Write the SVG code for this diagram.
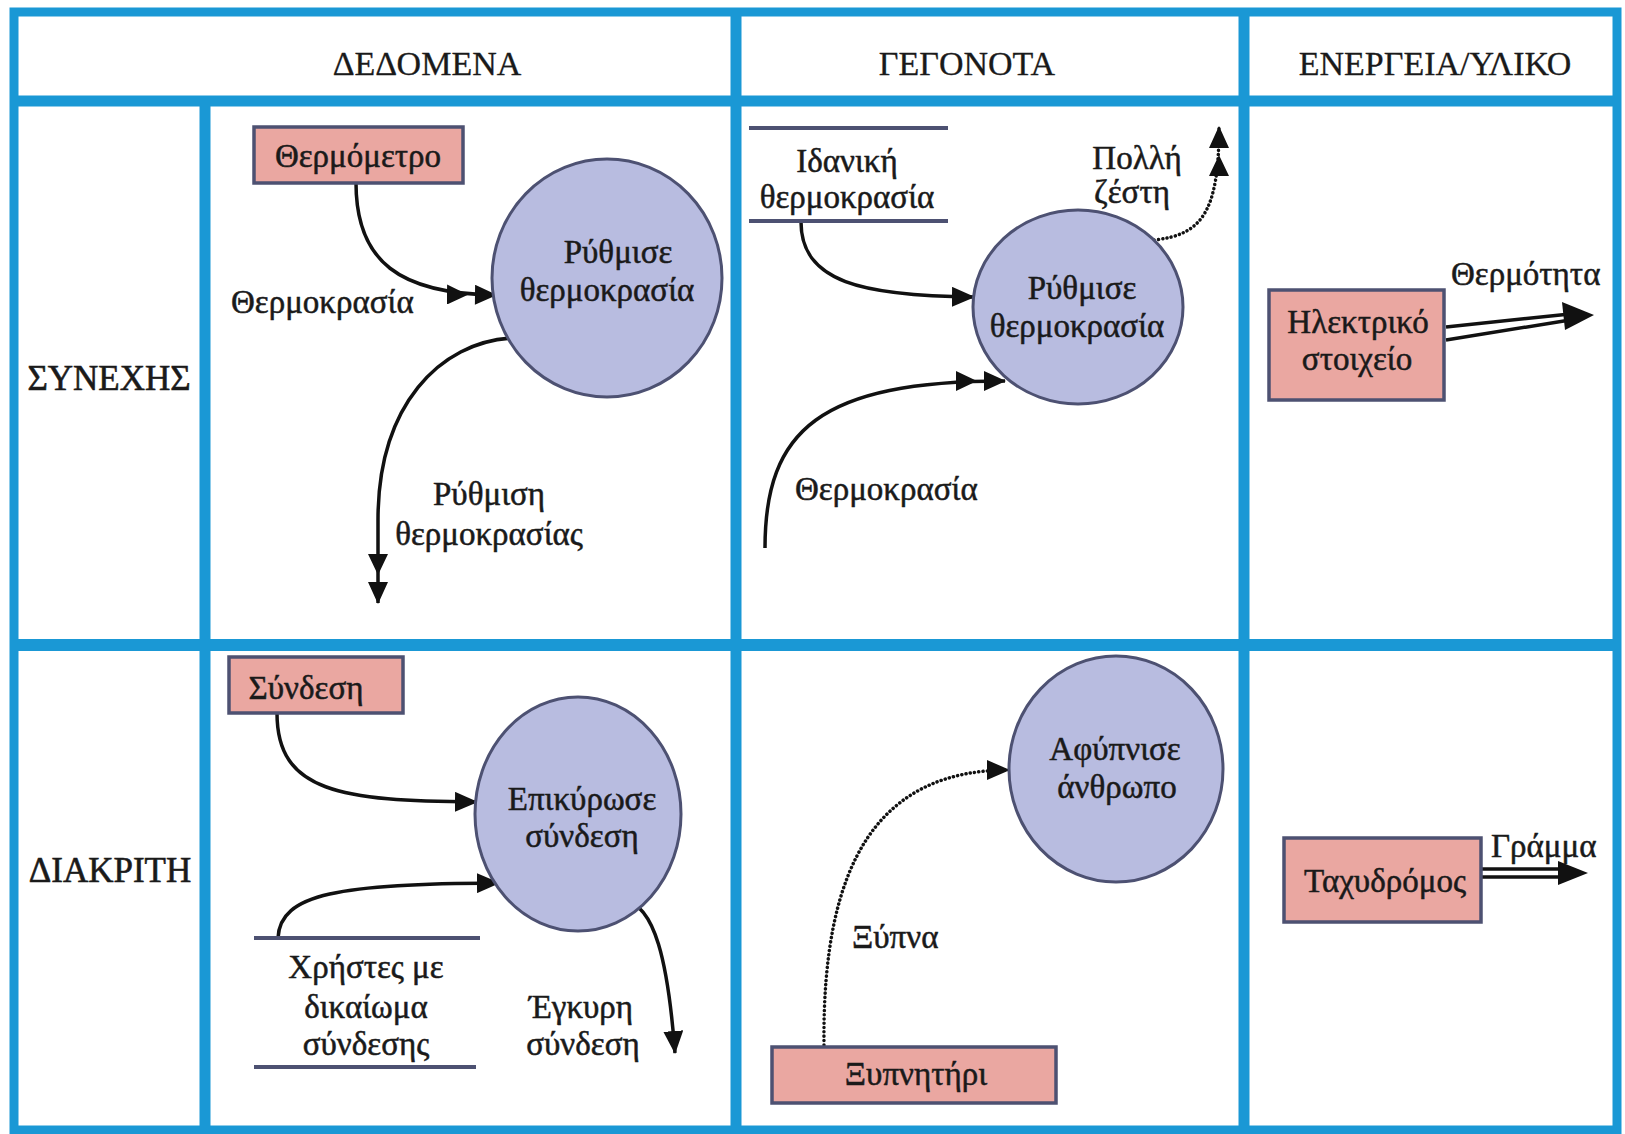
<svg xmlns="http://www.w3.org/2000/svg" width="1625" height="1134" viewBox="0 0 1625 1134">
  <style>
    .grid { fill: none; stroke: #1a98d5; stroke-width: 11; }
    .proc { fill: #b8bce0; stroke: #4d5172; stroke-width: 3; }
    .ext { fill: #eaa7a1; stroke: #4d5172; stroke-width: 3.5; }
    .store { stroke: #4d5172; stroke-width: 4; }
    .flow { fill: none; stroke: #111; stroke-width: 3.5; }
    .dot { fill: none; stroke: #111; stroke-width: 3.5; stroke-dasharray: 0.1 4.2; stroke-linecap: round; }
    .pipe { fill: none; stroke: #111; stroke-width: 3.5; }
    .head { fill: #111; }
    text { font-family: "Liberation Serif", "DejaVu Serif", serif; font-size: 33px; fill: #1a1a1a; stroke: #1a1a1a; stroke-width: 0.5; }
    .c { text-anchor: middle; }
    .hdr { font-size: 34px; stroke-width: 0.3; }
    .row { font-size: 35px; stroke-width: 0.6; }
  </style>
  <defs>
    <marker id="arrow" markerUnits="userSpaceOnUse" markerWidth="23" markerHeight="20" refX="22" refY="10" orient="auto">
      <path d="M0,0 L23,10 L0,20 z" fill="#111"/>
    </marker>
    <marker id="arrow2" markerUnits="userSpaceOnUse" markerWidth="50" markerHeight="20" refX="49" refY="10" orient="auto">
      <path d="M0,0 L21,10 L0,20 z M28,0 L50,10 L28,20 z" fill="#111"/>
    </marker>
  </defs>

  <rect x="0" y="0" width="1625" height="1134" fill="#fff"/>

  <!-- table grid -->
  <g id="grid">
    <rect class="grid" x="14" y="12" width="1603" height="1118" style="stroke-width:9"/>
    <line class="grid" x1="14" y1="101" x2="1617" y2="101"/>
    <line class="grid" x1="14" y1="645" x2="1617" y2="645" style="stroke-width:12"/>
    <line class="grid" x1="205" y1="101" x2="205" y2="1130"/>
    <line class="grid" x1="736" y1="12" x2="736" y2="1130"/>
    <line class="grid" x1="1244" y1="12" x2="1244" y2="1130"/>
  </g>

  <!-- column and row headings -->
  <g id="headings">
    <text class="c hdr" x="427" y="75">ΔΕΔΟΜΕΝΑ</text>
    <text class="c hdr" x="967" y="75">ΓΕΓΟΝΟΤΑ</text>
    <text class="c hdr" x="1435" y="75">ΕΝΕΡΓΕΙΑ/ΥΛΙΚΟ</text>
    <text class="c row" x="109" y="390">ΣΥΝΕΧΗΣ</text>
    <text class="c row" x="110" y="882">ΔΙΑΚΡΙΤΗ</text>
  </g>

  <!-- connectors -->
  <g id="connectors">
    <path class="flow" d="M356,183 C356,262 400,294 496,295" marker-end="url(#arrow2)"/>
    <path class="flow" d="M512,338 C440,342 378,405 378,520 L378,603" marker-end="url(#arrow2)"/>
    <path class="flow" d="M801,222 C801,282 862,296 974,297" marker-end="url(#arrow)"/>
    <path class="flow" d="M765,548 C765,430 820,381 1005,381" marker-end="url(#arrow2)"/>
    <path class="dot" d="M1154,240 C1202,235 1219,212 1219,127" marker-end="url(#arrow2)"/>
    <path class="flow" d="M277,713 C277,792 340,801 477,802" marker-end="url(#arrow)"/>
    <path class="flow" d="M278,938 C280,893 340,884 499,883" marker-end="url(#arrow)"/>
    <path class="flow" d="M624,900 C655,905 668,962 675,1053" marker-end="url(#arrow)"/>
    <path class="dot" d="M824,1045 C822,860 880,770 1009,770" marker-end="url(#arrow)"/>
    <!-- material flows: double line with filled head -->
    <g id="heat-flow">
      <line class="pipe" x1="1446" y1="327" x2="1570" y2="314"/>
      <line class="pipe" x1="1446" y1="340" x2="1570" y2="320"/>
      <path class="head" d="M1562,302 L1594,315 L1565,330 z"/>
    </g>
    <g id="letter-flow">
      <line class="pipe" x1="1482" y1="869" x2="1562" y2="869"/>
      <line class="pipe" x1="1482" y1="877" x2="1562" y2="877"/>
      <path class="head" d="M1558,861 L1588,873 L1558,885 z"/>
    </g>
  </g>

  <!-- data / continuous -->
  <g id="thermometer">
    <rect class="ext" x="254" y="127" width="209" height="56"/>
    <text class="c" x="358" y="167">Θερμόμετρο</text>
  </g>
  <g id="set-temp-data">
    <ellipse class="proc" cx="607" cy="278" rx="115" ry="119"/>
    <text class="c" x="618" y="263">Ρύθμισε</text>
    <text class="c" x="607" y="301">θερμοκρασία</text>
  </g>
  <text x="231" y="313">Θερμοκρασία</text>
  <text class="c" x="489" y="505">Ρύθμιση</text>
  <text class="c" x="489" y="545">θερμοκρασίας</text>

  <!-- events / continuous -->
  <g id="ideal-temp">
    <line class="store" x1="749" y1="128" x2="948" y2="128"/>
    <line class="store" x1="749" y1="221" x2="948" y2="221"/>
    <text class="c" x="847" y="172">Ιδανική</text>
    <text class="c" x="847" y="208">θερμοκρασία</text>
  </g>
  <g id="set-temp-event">
    <ellipse class="proc" cx="1078" cy="307" rx="105" ry="97"/>
    <text class="c" x="1082" y="299">Ρύθμισε</text>
    <text class="c" x="1077" y="337">θερμοκρασία</text>
  </g>
  <text x="795" y="500">Θερμοκρασία</text>
  <text class="c" x="1137" y="169">Πολλή</text>
  <text class="c" x="1132" y="203">ζέστη</text>

  <!-- energy / continuous -->
  <g id="heater">
    <rect class="ext" x="1269" y="290" width="175" height="110"/>
    <text class="c" x="1358" y="333">Ηλεκτρικό</text>
    <text class="c" x="1357" y="370">στοιχείο</text>
  </g>
  <text x="1451" y="285">Θερμότητα</text>

  <!-- data / discrete -->
  <g id="login">
    <rect class="ext" x="229" y="657" width="174" height="56"/>
    <text class="c" x="306" y="699">Σύνδεση</text>
  </g>
  <g id="validate-login">
    <ellipse class="proc" cx="578" cy="814" rx="103" ry="117"/>
    <text class="c" x="582" y="810">Επικύρωσε</text>
    <text class="c" x="582" y="847">σύνδεση</text>
  </g>
  <g id="authorised-users">
    <line class="store" x1="254" y1="938" x2="480" y2="938"/>
    <line class="store" x1="254" y1="1067" x2="476" y2="1067"/>
    <text class="c" x="366" y="978">Χρήστες με</text>
    <text class="c" x="366" y="1018">δικαίωμα</text>
    <text class="c" x="366" y="1055">σύνδεσης</text>
  </g>
  <text class="c" x="581" y="1018">Έγκυρη</text>
  <text class="c" x="583" y="1055">σύνδεση</text>

  <!-- events / discrete -->
  <g id="wake-person">
    <ellipse class="proc" cx="1116" cy="769" rx="107" ry="113"/>
    <text class="c" x="1115" y="760">Αφύπνισε</text>
    <text class="c" x="1117" y="798">άνθρωπο</text>
  </g>
  <g id="alarm-clock">
    <rect class="ext" x="772" y="1047" width="284" height="56"/>
    <text class="c" x="916" y="1085">Ξυπνητήρι</text>
  </g>
  <text x="852" y="948">Ξύπνα</text>

  <!-- material / discrete -->
  <g id="postman">
    <rect class="ext" x="1284" y="838" width="197" height="84"/>
    <text class="c" x="1385" y="892">Ταχυδρόμος</text>
  </g>
  <text x="1491" y="857">Γράμμα</text>
</svg>
